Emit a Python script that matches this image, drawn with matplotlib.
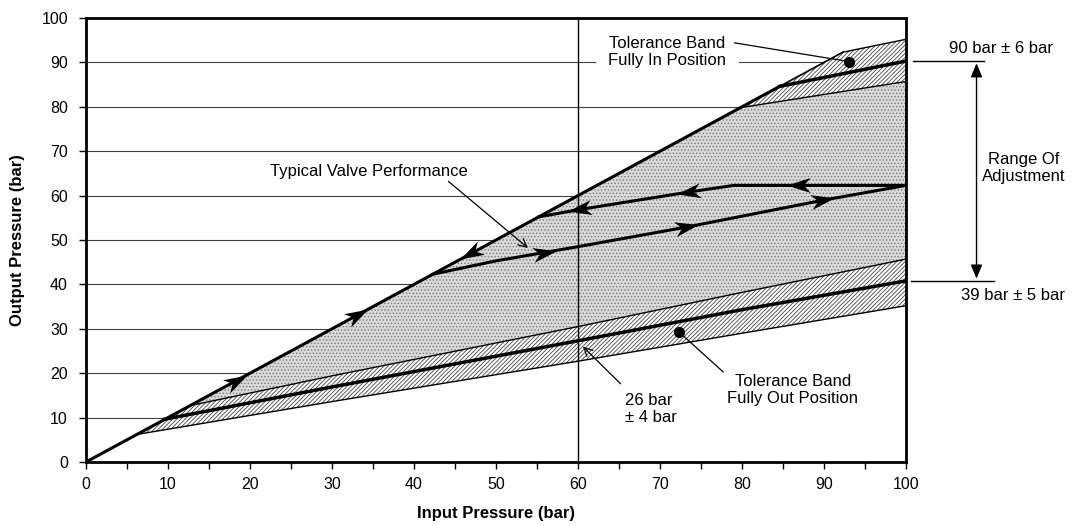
import numpy as np
import matplotlib.pyplot as plt
from matplotlib.patches import Polygon
from matplotlib.path import Path
from matplotlib.markers import MarkerStyle
from matplotlib.transforms import Affine2D

plt.rcParams['font.family'] = ['Liberation Sans', 'DejaVu Sans']
plt.rcParams['hatch.linewidth'] = 0.6

# Envelope: output follows input until the regulator takes over
diag_x = [0, 92.3, 100]
diag_y = [0, 92.3, 95.2]

# Tolerance band, fully out position (26 bar +/- 4 bar at 60 bar in)
out_lo_x = [6.2, 30, 60, 80, 100]
out_lo_y = [6.2, 13.6, 22.7, 29.0, 35.2]
out_mid_x = [9.5, 30, 60, 80, 100]
out_mid_y = [9.6, 16.9, 27.3, 34.3, 40.8]
out_hi_x = [12.7, 30, 60, 80, 100]
out_hi_y = [12.7, 19.4, 30.5, 38.2, 45.7]

# Tolerance band, fully in position (90 bar +/- 6 bar)
in_lo_x = [79.8, 100]
in_lo_y = [79.8, 85.7]
in_mid_x = [84.6, 100]
in_mid_y = [84.6, 90.3]

# Typical valve performance loop
rise_x = [42.3, 50, 60, 73.5, 90, 100]
rise_y = [42.3, 45.3, 48.5, 53.0, 59.0, 62.3]
ret_x = [100, 79, 73.5, 60, 55.2]
ret_y = [62.3, 62.3, 60.8, 56.8, 55.2]

# arrow heads: (x, y, dx, dy) direction of travel
heads = [(18.3, 18.3, 1, 1), (33.0, 33.0, 1, 1), (47.0, 47.0, -1, -1),
         (55.8, 47.1, 1, 0.32), (73.2, 52.9, 1, 0.36), (89.8, 59.0, 1, 0.33),
         (87.0, 62.3, -1, 0), (73.5, 60.8, -1, -0.28), (60.3, 56.9, -1, -0.3)]

fig = plt.figure(figsize=(10.78, 5.25), dpi=100)
ax = fig.add_axes([86 / 1078, 1 - 462 / 525, 820 / 1078, 444 / 525])
ax.set_xlim(0, 100)
ax.set_ylim(0, 100)

# gridlines
for g in range(10, 100, 10):
    ax.axhline(g, color='#404040', lw=0.8, zorder=1)

# white area under the bands hides the gridlines
under = [(0, 0)] + list(zip(out_lo_x, out_lo_y)) + [(100, 0)]
ax.add_patch(Polygon(under, closed=True, facecolor='white', edgecolor='none', zorder=2))

# stippled adjustment region
top_pts = [(12.7, 12.7), (92.3, 92.3), (100, 95.2)]
region = top_pts + list(zip(out_hi_x, out_hi_y))[::-1]
ax.add_patch(Polygon(region, closed=True, facecolor='#d9d9d9', edgecolor='#7a7a7a',
                     hatch='.....', lw=0, zorder=2))

# hatched tolerance bands
band_out = [(6.2, 6.2)] + list(zip(out_hi_x, out_hi_y)) + list(zip(out_lo_x, out_lo_y))[::-1]
ax.add_patch(Polygon(band_out, closed=True, facecolor='white', edgecolor='#444444',
                     hatch='////////', lw=0, zorder=3))
band_in = [(79.8, 79.8), (92.3, 92.3), (100, 95.2), (100, 85.7)]
ax.add_patch(Polygon(band_in, closed=True, facecolor='white', edgecolor='#444444',
                     hatch='////////', lw=0, zorder=3))

# band edges
ax.plot(out_lo_x, out_lo_y, color='black', lw=1, zorder=4)
ax.plot(out_hi_x, out_hi_y, color='black', lw=1, zorder=4)
ax.plot(in_lo_x, in_lo_y, color='black', lw=1, zorder=4)
ax.plot(diag_x[1:], diag_y[1:], color='black', lw=1, zorder=4)
ax.plot([84.6, 92.3], [84.6, 92.3], color='black', lw=1.2, zorder=4)

# band centre lines
ax.plot(out_mid_x, out_mid_y, color='black', lw=2.5, zorder=5)
ax.plot(in_mid_x, in_mid_y, color='black', lw=2.5, zorder=5)

# performance loop
ax.plot([0, 84.6], [0, 84.6], color='black', lw=2.2, zorder=5)
ax.plot(rise_x, rise_y, color='black', lw=2.2, zorder=5)
ax.plot(ret_x, ret_y, color='black', lw=2.2, zorder=5)

# stealth style arrow heads, turned to the on-screen direction of the line
stealth = Path([(1, 0), (-0.9, 0.6), (-0.35, 0), (-0.9, -0.6), (1, 0)],
               [Path.MOVETO, Path.LINETO, Path.LINETO, Path.LINETO, Path.CLOSEPOLY])
fig.canvas.draw()
for hx, hy, dx, dy in heads:
    p0 = ax.transData.transform((hx, hy))
    p1 = ax.transData.transform((hx + dx, hy + dy))
    ang = np.degrees(np.arctan2(p1[1] - p0[1], p1[0] - p0[0]))
    m = MarkerStyle(stealth, transform=Affine2D().rotate_deg(ang))
    ax.plot(hx, hy, marker=m, ms=18, color='black', mew=0, zorder=6)

ax.axvline(60, color='black', lw=1, zorder=7)

# annotations inside the plot
fs = 12
ax.text(70.9, 92.3, 'Tolerance Band\nFully In Position', ha='center', va='center',
        fontsize=fs, linespacing=1.15, zorder=8,
        bbox=dict(facecolor='white', edgecolor='none', pad=9))
ax.plot([79.1, 93], [94.4, 90.2], color='black', lw=0.9, zorder=8)
ax.plot(93, 90.2, 'o', color='black', ms=7, zorder=8)

ax.text(34.5, 65.4, 'Typical Valve Performance', ha='center', va='center', fontsize=fs, zorder=8)
ax.annotate('', xy=(53.9, 48.2), xytext=(44.2, 63.2),
            arrowprops=dict(arrowstyle='->,head_length=0.6,head_width=0.3', color='black',
                            lw=0.9, shrinkA=0, shrinkB=0), zorder=8)

ax.text(65.7, 11.9, '26 bar\n\u00b1 4 bar', ha='left', va='center', fontsize=fs,
        linespacing=1.15, zorder=8)
ax.annotate('', xy=(60.6, 26.0), xytext=(65.2, 17.6),
            arrowprops=dict(arrowstyle='->,head_length=0.6,head_width=0.3', color='black',
                            lw=0.9, shrinkA=0, shrinkB=0), zorder=8)

ax.text(86.2, 16.2, 'Tolerance Band\nFully Out Position', ha='center', va='center',
        fontsize=fs, linespacing=1.15, zorder=8)
ax.plot([72.3, 77.7], [29.3, 20.3], color='black', lw=0.9, zorder=8)
ax.plot(72.3, 29.3, 'o', color='black', ms=7, zorder=8)

# range of adjustment, outside the axes
ax.plot([100.8, 109.5], [90.3, 90.3], color='black', lw=1, clip_on=False)
ax.plot([100.6, 110.7], [40.8, 40.8], color='black', lw=1, clip_on=False)
ax.annotate('', xy=(108.6, 89.8), xytext=(108.6, 41.3), annotation_clip=False,
            arrowprops=dict(arrowstyle='<|-|>,head_length=0.6,head_width=0.25',
                            color='black', lw=1, shrinkA=0, shrinkB=0, mutation_scale=14))
ax.text(111.6, 93.2, '90 bar \u00b1 6 bar', ha='center', va='center', fontsize=fs, clip_on=False)
ax.text(113.1, 37.4, '39 bar \u00b1 5 bar', ha='center', va='center', fontsize=fs, clip_on=False)
ax.text(114.3, 66.2, 'Range Of\nAdjustment', ha='center', va='center', fontsize=fs,
        linespacing=1.15, clip_on=False)

# axes styling
ax.set_xticks(np.arange(0, 101, 10))
ax.set_xticks(np.arange(5, 100, 10), minor=True)
ax.set_yticks(np.arange(0, 101, 10))
ax.tick_params(axis='both', which='both', direction='out', length=5, width=1, labelsize=11.5)
ax.tick_params(axis='y', pad=8)
ax.tick_params(axis='x', pad=6)
for s in ax.spines.values():
    s.set_linewidth(2)
    s.set_zorder(9)

ax.set_xlabel('Input Pressure (bar)', fontsize=12, fontweight='bold', labelpad=10)
ax.set_ylabel('Output Pressure (bar)', fontsize=12, fontweight='bold', labelpad=12)

fig.savefig('out.png', dpi=100)
